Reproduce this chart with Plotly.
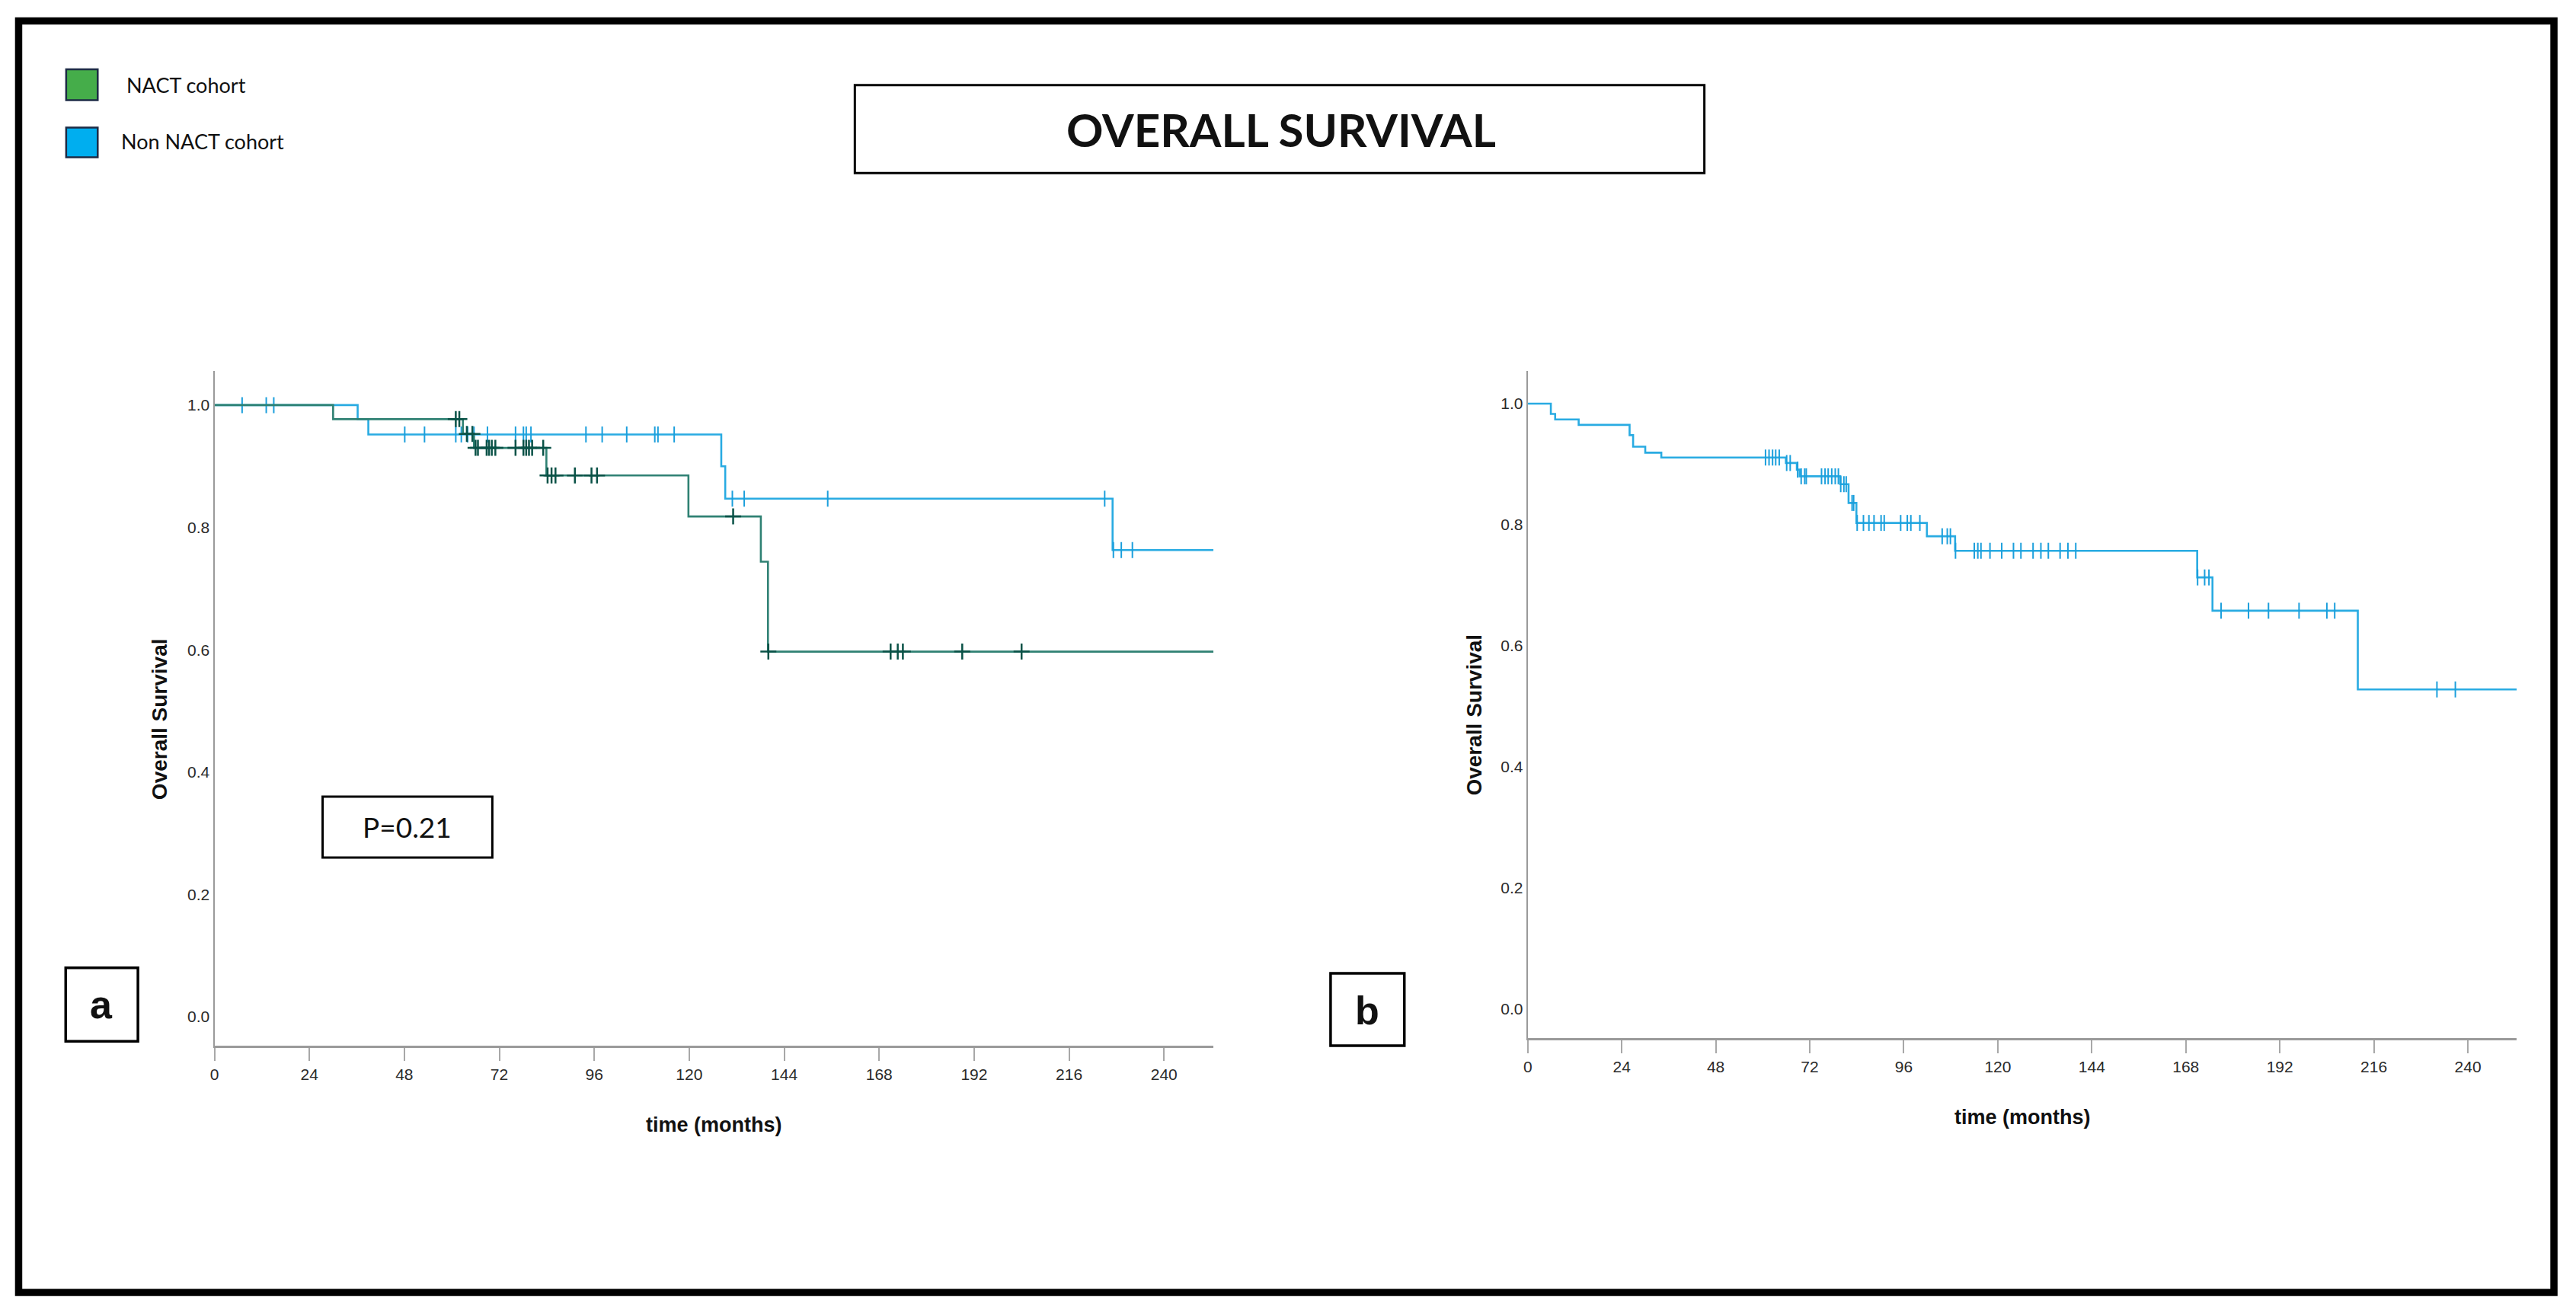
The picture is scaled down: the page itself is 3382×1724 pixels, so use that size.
import numpy as np
import plotly.graph_objects as go

W, H = 3382, 1724

# ---------------- data ----------------
# Panel a - NACT cohort (Kaplan-Meier)
nact_event_times = [30.0, 62.8, 65.6, 83.9, 119.8, 138.1, 139.9]
nact_survival = [0.977, 0.953, 0.930, 0.885, 0.818, 0.744, 0.597]
nact_censor_times = [61.0, 61.9, 63.8, 65.2, 66.0, 66.6, 68.8, 69.4, 70.1, 71.0,
                     76.1, 78.1, 78.8, 79.5, 80.3, 83.1, 84.2, 85.2, 86.2, 91.1,
                     95.3, 96.7, 131.1, 140.0, 170.9, 172.7, 174.0, 189.0, 204.0]
nact_last_followup = 252.5

# Panel a - Non NACT cohort
non_event_times = [36.2, 38.9, 128.1, 129.1, 227.0]
non_survival = [0.977, 0.952, 0.900, 0.847, 0.763]
non_censor_times = [7.0, 13.1, 15.0, 48.1, 53.1, 61.0, 62.4, 64.0, 65.6, 69.0,
                    76.1, 78.1, 78.8, 80.0, 93.9, 98.0, 104.2, 111.3, 112.1, 116.2,
                    130.9, 133.9, 155.0, 225.0, 227.2, 229.2, 232.0]
non_last_followup = 252.5

# Panel b - whole series
all_event_times = [5.9, 7.0, 13.0, 26.0, 26.9, 30.0, 34.1, 65.9, 68.7, 69.4,
                   79.8, 81.9, 83.9, 101.9, 109.1, 170.9, 174.8, 211.9]
all_survival = [0.983, 0.974, 0.965, 0.948, 0.929, 0.919, 0.911, 0.902, 0.891, 0.880,
                0.867, 0.836, 0.803, 0.781, 0.757, 0.713, 0.658, 0.528]
all_censor_times = [60.7, 61.6, 62.5, 63.3, 64.2, 66.1, 67.0, 68.9, 69.8, 70.7,
                    71.1, 75.0, 75.9, 76.7, 77.6, 78.5, 79.3, 79.9, 80.7, 81.3,
                    82.8, 83.2, 84.1, 85.7, 87.1, 88.4, 90.2, 91.0, 95.2, 96.9,
                    97.8, 100.1, 105.8, 107.1, 107.9, 109.2, 114.0, 114.9, 115.7, 118.0,
                    121.0, 124.0, 125.9, 129.0, 131.0, 132.9, 135.9, 137.9, 139.9, 171.0,
                    172.8, 173.9, 177.0, 184.0, 189.1, 196.9, 204.0, 206.0, 232.1, 236.8]
all_last_followup = 252.5

x_tick_values = [0, 24, 48, 72, 96, 120, 144, 168, 192, 216, 240]
y_tick_values = [0.0, 0.2, 0.4, 0.6, 0.8, 1.0]
y_tick_labels = ["0.0", "0.2", "0.4", "0.6", "0.8", "1.0"]

legend_labels = ["NACT cohort", "Non NACT cohort"]
p_value_text = "P=0.21"

# ---------------- helpers ----------------
BLUE_LINE = "#29abe2"
BLUE_MARK = "#1b9fdc"
GREEN_LINE = "#2f8173"
GREEN_MARK = "#0a5247"


def X(px):
    return px / W


def Y(py):
    return 1 - py / H


def km_steps(times, surv, last):
    xs = [0.0] + list(times) + [last]
    ys = [1.0] + list(surv) + [surv[-1]]
    return xs, ys


def surv_at(t, times, surv):
    idx = np.searchsorted(np.array(times), np.array(t), side="right") - 1
    s = np.concatenate([[1.0], np.array(surv)])
    return s[idx + 1]


fig = go.Figure()

# panel a curves (blue first, green on top)
xs, ys = km_steps(non_event_times, non_survival, non_last_followup)
fig.add_trace(go.Scatter(x=xs, y=ys, mode="lines", line=dict(shape="hv", color=BLUE_LINE, width=2.6),
                         name=legend_labels[1], xaxis="x", yaxis="y", showlegend=False))
fig.add_trace(go.Scatter(x=non_censor_times, y=surv_at(non_censor_times, non_event_times, non_survival),
                         mode="markers", marker=dict(symbol="line-ns", size=15, line=dict(color=BLUE_MARK, width=2)),
                         xaxis="x", yaxis="y", showlegend=False))
xs, ys = km_steps(nact_event_times, nact_survival, nact_last_followup)
fig.add_trace(go.Scatter(x=xs, y=ys, mode="lines", line=dict(shape="hv", color=GREEN_LINE, width=2.6),
                         name=legend_labels[0], xaxis="x", yaxis="y", showlegend=False))
fig.add_trace(go.Scatter(x=nact_censor_times, y=surv_at(nact_censor_times, nact_event_times, nact_survival),
                         mode="markers", marker=dict(symbol="cross-thin", size=15, line=dict(color=GREEN_MARK, width=2.5)),
                         xaxis="x", yaxis="y", showlegend=False))

# panel b curve
xs, ys = km_steps(all_event_times, all_survival, all_last_followup)
fig.add_trace(go.Scatter(x=xs, y=ys, mode="lines", line=dict(shape="hv", color=BLUE_LINE, width=2.6),
                         xaxis="x2", yaxis="y2", showlegend=False))
fig.add_trace(go.Scatter(x=all_censor_times, y=surv_at(all_censor_times, all_event_times, all_survival),
                         mode="markers", marker=dict(symbol="line-ns", size=15, line=dict(color=BLUE_MARK, width=2)),
                         xaxis="x2", yaxis="y2", showlegend=False))

tick_font = dict(family="Liberation Sans Narrow, Arial Narrow, Liberation Sans, Arial", size=21, color="#2a2a2a")
xaxis_common = dict(range=[0, 252.5], tickvals=x_tick_values, ticks="outside", ticklen=17, tickwidth=1.5,
                    tickcolor="#a8a8a8", showline=True, linecolor="#9a9a9a", linewidth=3,
                    showgrid=False, zeroline=False, tickfont=tick_font, fixedrange=True)
yaxis_common = dict(tickvals=y_tick_values, ticktext=y_tick_labels, ticks="", showline=True,
                    linecolor="#9a9a9a", linewidth=2, showgrid=False, zeroline=False,
                    tickfont=tick_font, fixedrange=True)

fig.update_layout(
    width=W, height=H, autosize=False,
    margin=dict(l=0, r=0, t=0, b=0),
    paper_bgcolor="white", plot_bgcolor="white",
    xaxis=dict(domain=[X(276.0), X(1590.0)], anchor="y", **xaxis_common),
    yaxis=dict(domain=[Y(1373), Y(487)], anchor="x", range=[-0.0472, 1.0559], **yaxis_common),
    xaxis2=dict(domain=[X(2003.3), X(3304.2)], anchor="y2", **xaxis_common),
    yaxis2=dict(domain=[Y(1363), Y(487)], anchor="x2", range=[-0.0478, 1.0541], **yaxis_common),
)

shapes = []
annotations = []


def box(x0, y0, x1, y1, width=3, color="black", fill="rgba(0,0,0,0)"):
    shapes.append(dict(type="rect", xref="paper", yref="paper", x0=X(x0), x1=X(x1), y0=Y(y1), y1=Y(y0),
                       line=dict(color=color, width=width), fillcolor=fill, layer="above"))


def text(s, x, y, size, family, xanchor="center", yanchor="middle", angle=0, color="#111111"):
    annotations.append(dict(text=s, x=X(x), y=Y(y), xref="paper", yref="paper", showarrow=False,
                            xanchor=xanchor, yanchor=yanchor, textangle=angle,
                            font=dict(size=size, family=family, color=color)))


# outer frame
box(18.5, 27.5, 3353, 1697, width=9.5)

# title box
box(1118.3, 111.7, 2235.6, 227.3, width=3)
text("<b>OVERALL SURVIVAL</b>", 1679, 170, 60, "Lato")

# legend
box(81, 91, 122.5, 131.5, width=2.5, color="#1c2b45", fill="#45ad4a")
box(81, 167.5, 122.5, 206.5, width=2.5, color="#1c2b45", fill="#00aeef")
text(legend_labels[0], 158.5, 111.7, 27, "Lato", xanchor="left")
text(legend_labels[1], 151.5, 185, 27, "Lato", xanchor="left")

# p-value box
box(418.3, 1046, 641.5, 1126, width=3)
text(p_value_text, 529, 1085, 37, "Lato")

# panel letters
box(80.4, 1270.7, 175.4, 1367.2, width=3.5)
text("<b>a</b>", 127, 1319, 52, "Liberation Sans, Arial")
box(1744, 1278, 1841, 1373, width=3.5)
text("<b>b</b>", 1792, 1327, 52, "Liberation Sans, Arial")

# axis titles
title_font = "Liberation Sans, Arial"
text("<b>time (months)</b>", 933.5, 1476.7, 27, title_font)
text("<b>time (months)</b>", 2654, 1466.7, 27, title_font)
text("<b>Overall Survival</b>", 204, 944.5, 28, title_font, angle=-90)
text("<b>Overall Survival</b>", 1932, 939, 28, title_font, angle=-90)

fig.update_layout(shapes=shapes, annotations=annotations)

fig.write_html("out.html", config={"displayModeBar": False},
               post_script="document.body.style.margin='0';document.body.style.overflow='hidden';")
